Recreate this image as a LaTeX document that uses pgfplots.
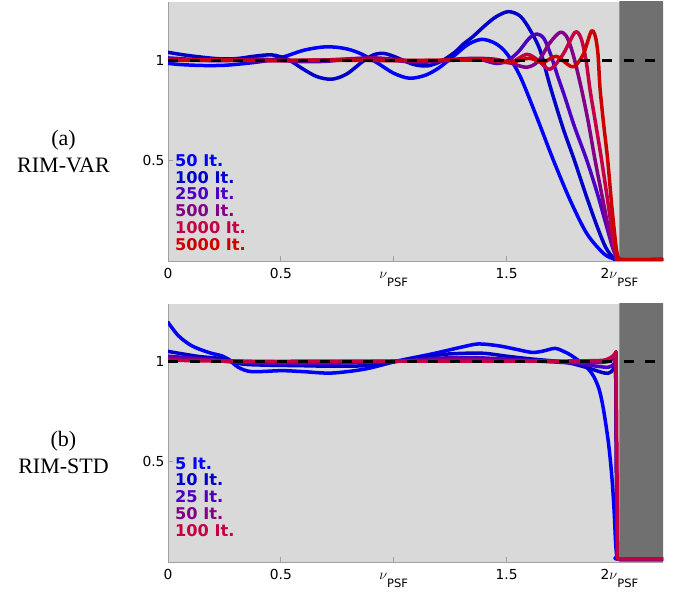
\documentclass[border=0pt]{standalone}
\usepackage{amsmath}
\usepackage{pgfplots}
\pgfplotsset{compat=1.18}
\usepackage{fontspec}
\setmainfont{DejaVu Sans}
\newfontfamily\timesf{Liberation Serif}
\definecolor{bg}{RGB}{217,217,217}
\definecolor{dk}{RGB}{112,112,112}
\definecolor{ax}{RGB}{160,160,160}
\definecolor{cA}{RGB}{0,0,255}
\definecolor{cB}{RGB}{0,0,200}
\definecolor{cC}{RGB}{75,0,195}
\definecolor{cD}{RGB}{130,0,135}
\definecolor{cE}{RGB}{195,0,70}
\definecolor{cF}{RGB}{205,0,0}
\newcommand{\nuPSF}{{\fontsize{14.4}{15}\selectfont$\nu$}\raisebox{-7.5pt}{\fontsize{11.5}{12}\selectfont PSF}}
\tikzset{leg/.style={anchor=base west, inner sep=0pt, font=\bfseries\fontsize{16.2}{18}\selectfont}}
\pgfplotsset{
 mystyle/.style={
  scale only axis, width=495pt, xmin=0, xmax=2.193,
  axis x line=bottom, axis y line=left,
  axis line style={draw=ax, line width=0.8pt, -},
  axis background/.style={fill=bg},
  tick align=inside, major tick length=5pt,
  tick style={draw=ax, line width=0.8pt},
  xtick={0,0.5,1,1.5,2},
  xticklabels={0,0.5,\nuPSF,1.5,2\nuPSF},
  xticklabel style={anchor=base, yshift=-18pt, font=\fontsize{13.8}{16}\selectfont},
  ytick={0.5,1}, yticklabels={0.5,1},
  yticklabel style={font=\fontsize{13.8}{16}\selectfont},
  every axis plot/.append style={line width=3.5pt, line join=round, line cap=round},
 },
}
\begin{document}
\begin{tikzpicture}
\useasboundingbox (0pt,0pt) rectangle (680pt,593pt);
\node[align=center, font=\timesf\fontsize{22}{27}\selectfont] at (63.5pt,441pt) {(a)\\RIM-VAR};
\node[align=center, font=\timesf\fontsize{22}{27}\selectfont] at (63.5pt,140.5pt) {(b)\\RIM-STD};
% ---------- top panel ----------
\begin{axis}[mystyle, at={(168pt,332pt)}, anchor=south west, height=259pt, ymin=-0.0065, ymax=1.2924]
\addplot[fill=dk, draw=none, forget plot] coordinates {(2,-0.1) (2.3,-0.1) (2.3,1.4) (2,1.4) (2,-0.1)};
\addplot[cA, smooth] coordinates {(0,0.985) (0.05,0.979) (0.15,0.974) (0.25,0.975) (0.35,0.985) (0.45,1.0) (0.52,1.02) (0.6,1.05) (0.68,1.066) (0.74,1.066) (0.8,1.055) (0.86,1.03) (0.93,0.985) (1.0,0.935) (1.07,0.91) (1.14,0.925) (1.2,0.962) (1.27,1.025) (1.33,1.08) (1.39,1.105) (1.45,1.085) (1.5,1.035) (1.56,0.92) (1.633,0.717) (1.707,0.5) (1.781,0.30) (1.855,0.132) (1.929,0.032) (1.975,0.004) (2.0,0) (2.193,0)};
\addplot[cB, smooth] coordinates {(0,1.04) (0.07,1.027) (0.14,1.017) (0.22,1.008) (0.3,1.008) (0.38,1.02) (0.46,1.027) (0.53,1.005) (0.6,0.955) (0.66,0.918) (0.725,0.905) (0.79,0.93) (0.864,0.995) (0.91,1.027) (0.953,1.035) (1.0,1.02) (1.086,0.98) (1.15,0.972) (1.21,0.995) (1.27,1.04) (1.307,1.08) (1.35,1.118) (1.41,1.18) (1.456,1.22) (1.508,1.244) (1.56,1.222) (1.604,1.152) (1.648,1.052) (1.693,0.87) (1.75,0.66) (1.80,0.5) (1.85,0.33) (1.90,0.17) (1.94,0.06) (1.975,0.008) (2.0,0) (2.193,0)};
\addplot[cC, smooth] coordinates {(0,1.012) (0.1,1.005) (0.2,0.998) (0.3,1.0) (0.4,1.006) (0.5,1.0) (0.6,0.993) (0.7,0.995) (0.8,1.005) (0.9,1.01) (1.0,1.0) (1.1,0.99) (1.2,0.995) (1.3,1.008) (1.38,1.005) (1.45,0.985) (1.5,0.995) (1.55,1.04) (1.6,1.11) (1.633,1.132) (1.665,1.11) (1.695,1.03) (1.725,0.925) (1.757,0.82) (1.80,0.67) (1.855,0.5) (1.90,0.34) (1.94,0.18) (1.97,0.06) (1.99,0.008) (2.0,0) (2.193,0)};
\addplot[cD, smooth] coordinates {(0,1.005) (0.15,1.0) (0.3,1.003) (0.5,0.998) (0.7,1.002) (0.9,1.012) (1.0,1.005) (1.1,0.995) (1.25,1.0) (1.35,1.01) (1.45,1.005) (1.52,0.985) (1.589,0.965) (1.64,0.995) (1.69,1.085) (1.737,1.14) (1.768,1.115) (1.797,1.02) (1.833,0.85) (1.862,0.69) (1.892,0.5) (1.93,0.28) (1.96,0.11) (1.985,0.02) (2.0,0) (2.193,0)};
\addplot[cE, smooth] coordinates {(0,1.0) (0.2,1.003) (0.4,0.998) (0.6,1.0) (0.8,1.002) (1.0,0.998) (1.2,1.0) (1.35,1.005) (1.45,0.995) (1.52,0.99) (1.589,1.03) (1.64,1.0) (1.692,0.955) (1.75,1.03) (1.803,1.14) (1.83,1.11) (1.852,1.0) (1.87,0.85) (1.895,0.68) (1.921,0.5) (1.95,0.28) (1.97,0.12) (1.99,0.015) (2.0,0) (2.193,0)};
\addplot[cF, smooth] coordinates {(0,1.0) (0.3,1.0) (0.6,1.0) (0.9,1.0) (1.2,1.0) (1.45,1.0) (1.52,0.99) (1.6,1.01) (1.66,0.99) (1.72,1.02) (1.77,0.98) (1.80,0.968) (1.84,1.03) (1.875,1.145) (1.893,1.12) (1.905,1.03) (1.914,0.86) (1.93,0.68) (1.948,0.5) (1.966,0.27) (1.985,0.065) (1.995,0.008) (2.0,0) (2.193,0)};
\addplot[black, line width=3pt, line cap=butt, dash pattern=on 10pt off 11.7pt] coordinates {(0,1) (2.193,1)};
\node[leg, text=cA] at (axis cs:0.031,0.4669) {50 It.};
\node[leg, text=cB] at (axis cs:0.031,0.3831) {100 It.};
\node[leg, text=cC] at (axis cs:0.031,0.2994) {250 It.};
\node[leg, text=cD] at (axis cs:0.031,0.2156) {500 It.};
\node[leg, text=cE] at (axis cs:0.031,0.1319) {1000 It.};
\node[leg, text=cF] at (axis cs:0.031,0.0481) {5000 It.};
\end{axis}
% ---------- bottom panel ----------
\begin{axis}[mystyle, at={(168pt,31pt)}, anchor=south west, height=258pt, ymin=0, ymax=1.285]
\addplot[fill=dk, draw=none, forget plot] coordinates {(2,-0.1) (2.3,-0.1) (2.3,1.4) (2,1.4) (2,-0.1)};
\addplot[cA, smooth] coordinates {(0,1.194) (0.046,1.127) (0.105,1.077) (0.179,1.044) (0.238,1.027) (0.267,1.011) (0.311,0.97) (0.371,0.948) (0.504,0.953) (0.6,0.948) (0.725,0.941) (0.873,0.961) (1.02,1.002) (1.168,1.036) (1.3,1.07) (1.375,1.086) (1.463,1.077) (1.54,1.06) (1.611,1.044) (1.66,1.05) (1.715,1.064) (1.76,1.045) (1.789,1.027) (1.848,0.978) (1.884,0.928) (1.91,0.86) (1.929,0.762) (1.951,0.596) (1.966,0.43) (1.976,0.264) (1.983,0.098) (1.988,0.03) (1.993,0.015) (2.193,0.015)};
\addplot[cB, smooth] coordinates {(0,1.049) (0.134,1.024) (0.253,1.011) (0.327,0.986) (0.45,0.98) (0.577,0.978) (0.73,0.975) (0.873,0.978) (1.02,1.0) (1.13,1.02) (1.242,1.036) (1.39,1.04) (1.5,1.025) (1.611,1.011) (1.759,0.995) (1.85,0.97) (1.92,0.945) (1.951,0.94) (1.973,0.96) (1.983,1.0)};
\addplot[cB] coordinates {(1.983,1.0) (1.99,0.015) (2.193,0.015)};
\addplot[cC, smooth] coordinates {(0,1.025) (0.15,1.012) (0.3,0.995) (0.5,0.99) (0.7,0.99) (0.9,0.995) (1.05,1.002) (1.2,1.015) (1.35,1.018) (1.5,1.01) (1.65,1.0) (1.8,0.99) (1.9,0.975) (1.95,0.97) (1.975,0.985) (1.983,1.01)};
\addplot[cC] coordinates {(1.983,1.01) (1.99,0.015) (2.193,0.015)};
\addplot[cD, smooth] coordinates {(0,1.015) (0.2,1.005) (0.4,0.998) (0.7,0.997) (1.0,1.0) (1.3,1.008) (1.6,1.002) (1.85,0.995) (1.95,0.998) (1.983,1.03)};
\addplot[cD] coordinates {(1.983,1.03) (1.99,0.015) (2.193,0.015)};
\addplot[cE, smooth] coordinates {(0,1.005) (0.3,1.0) (0.7,1.0) (1.2,1.0) (1.6,1.0) (1.9,1.003) (1.95,1.012) (1.975,1.03) (1.985,1.048)};
\addplot[cE] coordinates {(1.985,1.048) (1.992,0.015) (2.193,0.015)};
\addplot[black, line width=3pt, line cap=butt, dash pattern=on 10pt off 11.7pt] coordinates {(0,1) (2.193,1)};
\node[leg, text=cA] at (axis cs:0.031,0.462) {5 It.};
\node[leg, text=cB] at (axis cs:0.031,0.379) {10 It.};
\node[leg, text=cC] at (axis cs:0.031,0.295) {25 It.};
\node[leg, text=cD] at (axis cs:0.031,0.212) {50 It.};
\node[leg, text=cE] at (axis cs:0.031,0.129) {100 It.};
\end{axis}
\end{tikzpicture}
\end{document}
